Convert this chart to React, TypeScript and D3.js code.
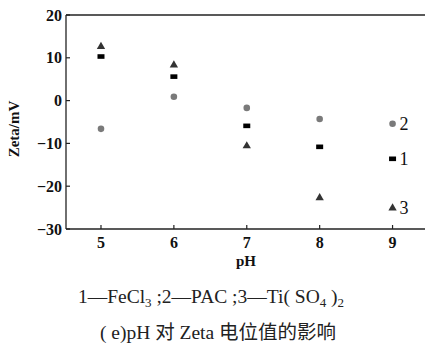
import React from 'react';
import * as d3 from 'd3';

const phValues = [5, 6, 7, 8, 9];
const fecl3 = [10.3, 5.6, -5.9, -10.8, -13.6];
const pac = [-6.6, 0.9, -1.7, -4.3, -5.4];
const tiso4 = [12.6, 8.3, -10.6, -22.7, -25.1];
const yTicks = [-30, -20, -10, 0, 10, 20];
const seriesLabels = ['1', '2', '3'];

const W = 425;
const H = 345;
const left = 66;
const top = 15;
const bottom = 229;

const sf = 'Liberation Serif, DejaVu Serif, serif';
const cjk = 'Liberation Serif, Noto Sans CJK SC, serif';

export default function App() {
  const x = d3.scaleLinear().domain([4.52, 9.5]).range([left, left + 363]);
  const y = d3.scaleLinear().domain([-30, 20]).range([bottom, top]);
  const tri = d3.symbol().type(d3.symbolTriangle).size(30)();

  return (
    <svg width={W} height={H} style={{ position: 'absolute', left: 0, top: 0 }}>
      <rect width={W} height={H} fill="#fff" />
      {/* axes frame */}
      <line x1={left} x2={W} y1={y(20)} y2={y(20)} stroke="#222" strokeWidth={1.3} />
      <line x1={left} x2={left} y1={top} y2={bottom} stroke="#222" strokeWidth={1.3} />
      <line x1={left} x2={W} y1={bottom} y2={bottom} stroke="#222" strokeWidth={1.3} />

      {yTicks.map(t => (
        <g key={t}>
          <line x1={left} x2={left + 4} y1={y(t)} y2={y(t)} stroke="#222" strokeWidth={1.2} />
          <text x={left - 4} y={y(t)} dy="0.35em" textAnchor="end" style={{ fontFamily: sf }}
            fontWeight="bold" fontSize={16} fill="#111">{t < 0 ? '\u2212' + Math.abs(t) : t}</text>
        </g>
      ))}
      {phValues.map(t => (
        <g key={t}>
          <line x1={x(t)} x2={x(t)} y1={bottom} y2={bottom - 4} stroke="#222" strokeWidth={1.2} />
          <text x={x(t)} y={248} textAnchor="middle" style={{ fontFamily: sf }}
            fontWeight="bold" fontSize={16} fill="#111">{t}</text>
        </g>
      ))}

      <text transform={`translate(19,${129}) rotate(-90)`} textAnchor="middle" style={{ fontFamily: sf }}
        fontWeight="bold" fontSize={15} fill="#111">Zeta/mV</text>
      <text x={246} y={266} textAnchor="middle" style={{ fontFamily: sf }} fontWeight="bold"
        fontSize={15} fill="#111">pH</text>

      {/* series 2: circles */}
      {pac.map((v, i) => (
        <circle key={'c' + i} cx={x(phValues[i])} cy={y(v)} r={3.3} fill="#7a7a7a" />
      ))}
      {/* series 1: squares */}
      {fecl3.map((v, i) => (
        <rect key={'s' + i} x={x(phValues[i]) - 3.5} y={y(v) - 2.3} width={7} height={4.6} fill="#000" />
      ))}
      {/* series 3: triangles */}
      {tiso4.map((v, i) => (
        <path key={'t' + i} d={tri ?? ''} transform={`translate(${x(phValues[i])},${y(v)})`} fill="#333" />
      ))}

      {[fecl3, pac, tiso4].map((s, i) => (
        <text key={'l' + i} x={x(9) + 7} y={y(s[s.length - 1])} dy="0.35em" style={{ fontFamily: sf }}
          fontSize={18} fill="#111">{seriesLabels[i]}</text>
      ))}

      <text x={211} y={303} textAnchor="middle" style={{ fontFamily: sf }} fontSize={19.5} fill="#222">
        1—FeCl<tspan fontSize={13} dy={4}>3</tspan><tspan dy={-4}> ;2—PAC ;3—Ti( SO</tspan>
        <tspan fontSize={13} dy={4}>4</tspan><tspan dy={-4}> )</tspan><tspan fontSize={13} dy={4}>2</tspan>
      </text>
      <text x={218} y={339} textAnchor="middle" style={{ fontFamily: cjk }} fontSize={19.5} fill="#222">
        ( e)pH 对 Zeta 电位值的影响
      </text>
    </svg>
  );
}
